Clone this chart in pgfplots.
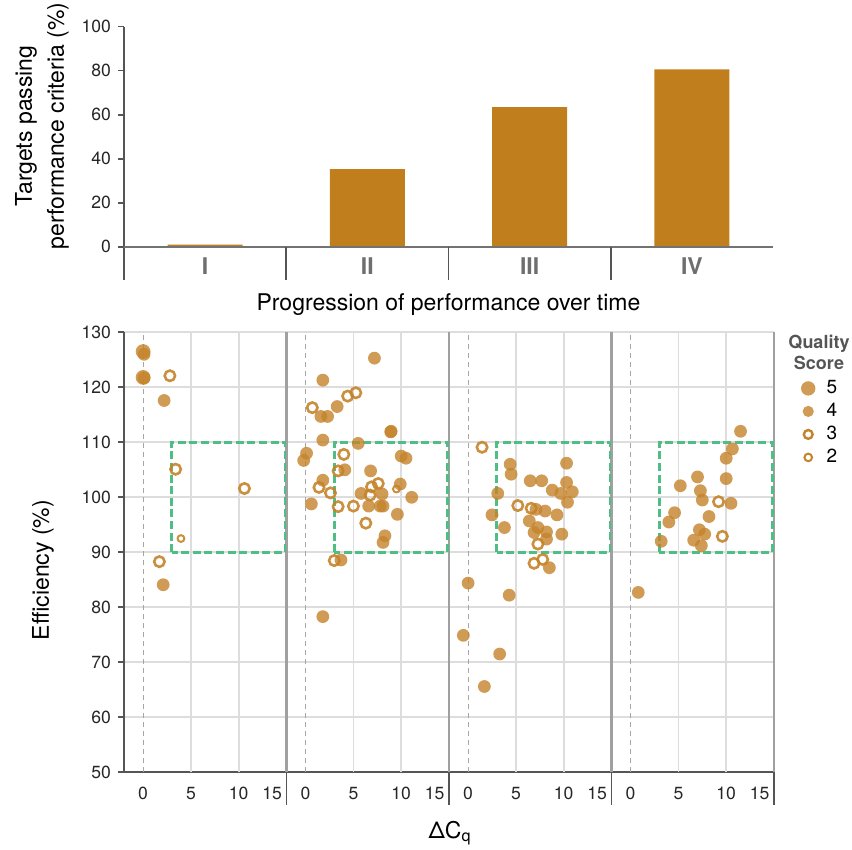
\documentclass[border=0pt]{standalone}
\usepackage{pgfplots}
\pgfplotsset{compat=1.18}
\usepackage{pgfplotstable}
\usepackage{fontspec}
\setmainfont{TeX Gyre Heros}
\definecolor{barc}{HTML}{C17E1C}
\definecolor{ptc}{HTML}{C4832A}
\definecolor{boxg}{HTML}{4EBE85}
\definecolor{gridc}{HTML}{DDDDDD}
\definecolor{sepc}{HTML}{A0A0A0}
\definecolor{axc}{HTML}{555555}
\definecolor{catc}{HTML}{6E6E6E}

% p = panel (0..3), x = Delta Cq, y = efficiency
\pgfplotstableread{
p x y
0 0.0 126.5
0 0.0 121.8
}\scoreFive
\pgfplotstableread{
p x y
0 0.1 126.0
0 0.1 121.7
0 2.2 117.6
0 2.1 84.1
1 7.2 125.3
1 1.8 121.3
1 3.3 116.5
1 1.6 114.7
1 2.3 114.7
1 8.9 111.9
1 8.95 112.0
1 1.8 110.4
1 5.5 109.8
1 0.1 108.0
1 -0.2 106.7
1 10.0 107.5
1 10.5 107.1
1 4.1 105.0
1 6.8 104.8
1 1.8 103.1
1 9.9 102.4
1 5.8 100.7
1 8.0 100.6
1 11.1 100.0
1 0.6 98.8
1 6.6 98.4
1 7.8 98.4
1 8.1 98.4
1 9.6 96.9
1 8.3 93.0
1 8.1 91.8
1 3.7 88.6
1 1.8 78.3
2 4.4 106.0
2 4.5 104.2
2 10.3 106.2
2 6.5 103.0
2 7.7 103.0
2 10.3 102.7
2 8.8 101.3
2 9.7 100.7
2 10.9 101.0
2 10.4 99.1
2 3.1 100.7
2 2.5 96.8
2 3.8 94.5
2 7.1 97.8
2 8.05 97.5
2 9.3 96.8
2 6.4 95.7
2 7.3 94.5
2 6.9 93.6
2 8.2 93.7
2 8.2 92.4
2 9.8 93.3
2 8.5 87.2
2 0.0 84.4
2 4.3 82.2
2 -0.5 74.9
2 3.3 71.5
2 1.7 65.6
3 11.5 112.0
3 10.65 108.8
3 10.0 107.1
3 7.0 103.7
3 10.0 103.4
3 5.2 102.1
3 7.3 101.2
3 7.5 99.5
3 10.5 98.9
3 4.6 97.2
3 4.0 95.5
3 8.2 96.5
3 7.2 94.1
3 7.75 93.3
3 6.6 92.2
3 7.4 91.2
3 3.2 92.0
3 0.8 82.7
}\scoreFour
\pgfplotstableread{
p x y
0 2.8 122.1
0 3.4 105.1
0 10.6 101.6
0 1.7 88.3
1 0.7 116.3
1 4.4 118.4
1 5.25 119.0
1 4.0 107.8
1 3.4 104.8
1 1.4 101.8
1 2.6 100.8
1 3.4 98.3
1 5.0 98.4
1 7.6 102.5
1 6.9 101.9
1 6.75 100.4
1 6.3 95.3
1 3.0 88.5
2 1.46 109.1
2 5.2 98.5
2 6.6 98.0
2 7.3 91.5
2 6.9 88.0
2 7.8 88.7
3 9.2 99.2
3 9.6 92.9
}\scoreThree
\pgfplotstableread{
p x y
0 3.96 92.5
1 9.5 101.5
}\scoreTwo

\begin{document}
\begin{tikzpicture}
\useasboundingbox (0,0) rectangle (426pt,425pt);

% ---------- top bar chart ----------
\begin{axis}[
  at={(62pt,285pt)}, anchor=south west, scale only axis,
  width=324.5pt, height=126.65pt,
  xmin=-0.5, xmax=3.5, ymin=-15.1, ymax=100,
  axis lines*=left,
  x axis line style={draw=none},
  y axis line style={draw=axc, line width=0.9pt},
  xtick=\empty, ytick={0,20,...,100},
  tick align=outside, major tick length=3pt,
  ytick style={draw=axc, line width=0.8pt},
  yticklabel style={font=\fontsize{8.8}{10}\selectfont, color=black!85},
  /pgf/number format/assume math mode=true,
  clip=false,
]
\addplot[ybar, bar width=0.462, fill=barc, draw=none] coordinates {(0,1.0) (1,35.3) (2,63.4) (3,80.6)};
\draw[color=black!55, line width=0.9pt] (axis cs:-0.5,0) -- (axis cs:3.5,0);
\draw[axc, line width=0.9pt] (axis cs:0.5,0) -- (axis cs:0.5,-15.1);
\draw[axc, line width=0.9pt] (axis cs:1.5,0) -- (axis cs:1.5,-15.1);
\draw[axc, line width=0.9pt] (axis cs:2.5,0) -- (axis cs:2.5,-15.1);
\node[font=\fontsize{11.5}{12}\selectfont\bfseries, text=catc] at (axis cs:0,-9) {I};
\node[font=\fontsize{11.5}{12}\selectfont\bfseries, text=catc] at (axis cs:1,-9) {II};
\node[font=\fontsize{11.5}{12}\selectfont\bfseries, text=catc] at (axis cs:2,-9) {III};
\node[font=\fontsize{11.5}{12}\selectfont\bfseries, text=catc] at (axis cs:3,-9) {IV};
\end{axis}

% ---------- bottom scatter panels ----------
\begin{axis}[
  at={(62pt,38.85pt)}, anchor=south west, scale only axis,
  width=325pt, height=220pt,
  xmin=-2, xmax=66, ymin=50, ymax=130,
  axis lines*=left,
  axis line style={draw=axc, line width=0.9pt},
  xtick={0,5,10,13.5,17,22,27,30.5,34,39,44,47.5,51,56,61,64.5},
  xticklabels={0,5,10,15,0,5,10,15,0,5,10,15,0,5,10,15},
  xtick style={draw=none},
  xticklabel style={font=\fontsize{8.8}{10}\selectfont, color=black!85, yshift=-1pt},
  ytick={50,60,...,130},
  ymajorgrids, grid style={gridc, line width=0.8pt},
  tick align=outside, major tick length=3pt,
  ytick style={draw=axc, line width=0.8pt},
  yticklabel style={font=\fontsize{8.8}{10}\selectfont, color=black!85},
  /pgf/number format/assume math mode=true,
  clip=false,
  legend style={at={(1.041,0.8995)}, anchor=north west, draw=none, fill=none,
    inner sep=0pt, font=\fontsize{9.5}{10}\selectfont, row sep=0pt,
    nodes={inner sep=0pt, minimum height=11.5pt},
    /tikz/every odd column/.append style={column sep=5.6pt}},
  legend cell align=left,
  legend image code/.code={\draw[#1] plot coordinates {(0.15cm,0cm)};},
]
% vertical grid
\draw[gridc, line width=0.8pt] (axis cs:5,50) -- (axis cs:5,130);
\draw[gridc, line width=0.8pt] (axis cs:10,50) -- (axis cs:10,130);
\draw[gridc, line width=0.8pt] (axis cs:22,50) -- (axis cs:22,130);
\draw[gridc, line width=0.8pt] (axis cs:27,50) -- (axis cs:27,130);
\draw[gridc, line width=0.8pt] (axis cs:39,50) -- (axis cs:39,130);
\draw[gridc, line width=0.8pt] (axis cs:44,50) -- (axis cs:44,130);
\draw[gridc, line width=0.8pt] (axis cs:56,50) -- (axis cs:56,130);
\draw[gridc, line width=0.8pt] (axis cs:61,50) -- (axis cs:61,130);
% zero lines
\draw[black!35, line width=0.5pt, dash pattern=on 2.5pt off 2pt] (axis cs:0,50) -- (axis cs:0,130);
\draw[black!35, line width=0.5pt, dash pattern=on 2.5pt off 2pt] (axis cs:17,50) -- (axis cs:17,130);
\draw[black!35, line width=0.5pt, dash pattern=on 2.5pt off 2pt] (axis cs:34,50) -- (axis cs:34,130);
\draw[black!35, line width=0.5pt, dash pattern=on 2.5pt off 2pt] (axis cs:51,50) -- (axis cs:51,130);
% panel separators
\draw[sepc, line width=1.3pt] (axis cs:15,50) -- (axis cs:15,130);
\draw[sepc, line width=1.3pt] (axis cs:32,50) -- (axis cs:32,130);
\draw[sepc, line width=1.3pt] (axis cs:49,50) -- (axis cs:49,130);
\draw[sepc, line width=1.3pt] (axis cs:66,50) -- (axis cs:66,130);
\draw[axc, line width=0.8pt] (axis cs:15,50) -- ++(0pt,-16.5pt);
\draw[axc, line width=0.8pt] (axis cs:32,50) -- ++(0pt,-16.5pt);
\draw[axc, line width=0.8pt] (axis cs:49,50) -- ++(0pt,-16.5pt);
\draw[axc, line width=0.8pt] (axis cs:66,50) -- ++(0pt,-16.5pt);
% target boxes
\draw[boxg, line width=1.4pt, dash pattern=on 4pt off 1.8pt] (axis cs:3,90) rectangle (axis cs:14.85,110);
\draw[boxg, line width=1.4pt, dash pattern=on 4pt off 1.8pt] (axis cs:20,90) rectangle (axis cs:31.85,110);
\draw[boxg, line width=1.4pt, dash pattern=on 4pt off 1.8pt] (axis cs:37,90) rectangle (axis cs:48.85,110);
\draw[boxg, line width=1.4pt, dash pattern=on 4pt off 1.8pt] (axis cs:54,90) rectangle (axis cs:65.85,110);

\addplot[only marks, mark=*, mark size=3.7pt, mark options={draw=ptc, draw opacity=0, fill=ptc, fill opacity=0.8}, forget plot]
  table[x expr=\thisrow{x}+17*\thisrow{p}, y=y] {\scoreFive};
\addplot[only marks, mark=*, mark size=3.2pt, mark options={draw=ptc, draw opacity=0, fill=ptc, fill opacity=0.8}, forget plot]
  table[x expr=\thisrow{x}+17*\thisrow{p}, y=y] {\scoreFour};
\addplot[only marks, mark=o, mark size=2.6pt, mark options={draw=ptc, line width=1.3pt, draw opacity=0.9}, forget plot]
  table[x expr=\thisrow{x}+17*\thisrow{p}, y=y] {\scoreThree};
\addplot[only marks, mark=o, mark size=1.7pt, mark options={draw=ptc, line width=1pt, draw opacity=0.9}, forget plot]
  table[x expr=\thisrow{x}+17*\thisrow{p}, y=y] {\scoreTwo};

\addlegendimage{only marks, mark=*, mark size=3.6pt, mark options={draw=ptc, draw opacity=0, fill=ptc, fill opacity=0.8}}
\addlegendentry{5}
\addlegendimage{only marks, mark=*, mark size=2.8pt, mark options={draw=ptc, draw opacity=0, fill=ptc, fill opacity=0.8}}
\addlegendentry{4}
\addlegendimage{only marks, mark=o, mark size=2.2pt, mark options={draw=ptc, line width=1.2pt}}
\addlegendentry{3}
\addlegendimage{only marks, mark=o, mark size=1.9pt, mark options={draw=ptc, line width=1pt}}
\addlegendentry{2}
\end{axis}

% ---------- outer texts (pixel frame) ----------
\begin{scope}[x=0.5pt, y=-0.5pt, shift={(0pt,425pt)}]
\node[rotate=90, align=center, font=\fontsize{11.5}{16}\selectfont] at (42,126)
  {Targets passing\\performance criteria (\%)};
\node[font=\fontsize{11.5}{14}\selectfont] at (448.5,305) {Progression of performance over time};
\node[rotate=90, font=\fontsize{11.5}{14}\selectfont] at (43,570) {Efficiency (\%)};
\node[font=\fontsize{11.5}{14}\selectfont] at (450,833) {ΔC\textsubscript{q}};
\node[align=center, font=\fontsize{9}{10.5}\selectfont\bfseries, text=axc] at (819,352) {Quality\\Score};
\end{scope}
\end{tikzpicture}
\end{document}
